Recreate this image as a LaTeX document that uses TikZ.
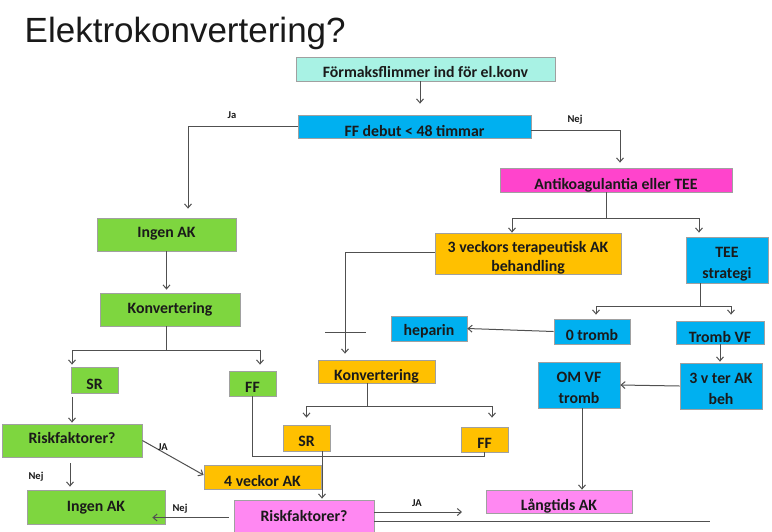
\documentclass[tikz,border=0pt]{standalone}
\usepackage{fontspec}
\setmainfont{Carlito}
\newfontfamily\titlefont{Liberation Sans}
\usetikzlibrary{arrows.meta}
\definecolor{cAqua}{HTML}{A8F2E4}
\definecolor{cCyan}{HTML}{00B0F0}
\definecolor{cGreen}{HTML}{7ED63F}
\definecolor{cOrange}{HTML}{FFC000}
\definecolor{cMagenta}{HTML}{FF44CC}
\definecolor{cPink}{HTML}{FF88F2}
\definecolor{cLine}{HTML}{505050}
\definecolor{cBorder}{HTML}{A0A0A0}
\definecolor{cText}{HTML}{1A1A1A}
\tikzset{
  box/.style={draw=cBorder, line width=0.8pt, inner sep=0pt},
  btext/.style={inner sep=0pt, align=center, text=cText,
    font=\bfseries\fontsize{15.8}{20.5}\selectfont},
  oneline/.style={text height=10.2pt, text depth=0pt},
  conn/.style={draw=cLine, line width=1pt},
  arr/.style={conn, -{Straight Barb[length=4pt,width=7pt]}},
  lbl/.style={font=\bfseries\fontsize{10.5}{12}\selectfont, text=cText, inner sep=0pt}
}
% \mybox{name}{fill}{x}{y}{w}{h}{text offset down}{extra text style}{text}
\newcommand\mybox[9]{%
  \node[box, fill=#2, minimum width=#5pt, minimum height=#6pt] (#1) at (#3,#4) {};
  \node[btext, #8] (#1t) at ([yshift=-#7pt]#1.center) {#9};}
\begin{document}
\begin{tikzpicture}[x=1pt,y=-1pt]
\useasboundingbox (0,0) rectangle (772,531);
\fill[white] (0,0) rectangle (772,531);
% title
\node[anchor=base west, inner sep=0pt, font=\titlefont\fontsize{35}{40}\selectfont, text=black!90] (title) at (24.5,42) {Elektrokonvertering?};
% boxes
\mybox{form}{cAqua}{425.5}{69}{259}{24}{3.5}{oneline}{Förmaksflimmer ind för el.konv}
\mybox{ffd}{cCyan}{414.5}{126.5}{233}{23}{5}{oneline}{FF debut < 48 timmar}
\mybox{anti}{cMagenta}{616}{180}{232}{24}{4}{oneline}{Antikoagulantia eller TEE}
\mybox{ingen1}{cGreen}{166.5}{234.5}{139}{33}{-2}{oneline}{Ingen AK}
\mybox{konv1}{cGreen}{170}{309.5}{140}{33}{-1}{oneline}{Konvertering}
\mybox{sr1}{cGreen}{94.5}{380}{47}{26}{4}{oneline}{SR}
\mybox{ff1}{cGreen}{252.5}{383.5}{47}{25}{4}{oneline}{FF}
\mybox{risk1}{cGreen}{72}{440.5}{140}{33}{-2.5}{oneline}{Riskfaktorer?}
\mybox{ingen2}{cGreen}{96}{507}{138}{34}{-0.7}{oneline}{Ingen AK}
\mybox{vecka4}{cOrange}{262.5}{477}{117}{24}{4}{oneline}{4 veckor AK}
\mybox{risk2}{cPink}{304}{517.5}{140}{35}{-1.2}{oneline}{Riskfaktorer?}
\mybox{tre}{cOrange}{528}{253.5}{186}{41}{4.4}{font=\bfseries\fontsize{15.8}{18.5}\selectfont}{3 veckors terapeutisk AK\\behandling}
\mybox{tee}{cCyan}{727}{260}{82}{46}{4.4}{}{TEE\\strategi}
\mybox{konv2}{cOrange}{376.5}{371.5}{117}{23}{4}{oneline}{Konvertering}
\mybox{sr2}{cOrange}{306.5}{438}{47}{26}{3}{oneline}{SR}
\mybox{ff2}{cOrange}{484.5}{439.5}{47}{25}{3.5}{oneline}{FF}
\mybox{heparin}{cCyan}{429}{328.5}{76}{25}{2}{oneline}{heparin}
\mybox{tromb0}{cCyan}{592}{331.5}{76}{25}{3.5}{oneline}{0 tromb}
\mybox{trombvf}{cCyan}{720}{332.5}{88}{23}{4.5}{oneline}{Tromb VF}
\mybox{trevter}{cCyan}{721}{386}{82}{46}{3}{}{3 v ter AK\\beh}
\mybox{omvf}{cCyan}{579}{385}{82}{46}{3}{}{OM VF\\tromb}
\mybox{lang}{cPink}{559}{501.5}{146}{23}{4}{oneline}{Långtids AK}
% free ends
\coordinate (jaend) at (462,512);
\coordinate (lineend) at (710,521);
% connectors
\draw[arr, shorten >=11pt] ([xshift=-5.5pt]form.south) -- ([xshift=5.5pt]ffd.north);
\draw[arr, shorten >=9pt] (ffd.west) -| ([xshift=21.5pt]ingen1.north);
\node[lbl] (ja1) at (232,115) {Ja};
\draw[arr, shorten >=5pt] ([yshift=-4pt]ffd.east) -| ([xshift=4pt]anti.north);
\node[lbl] (nej1) at (575,120) {Nej};
% anti branch
\draw[conn] ([xshift=-10pt]anti.south) -- ++(0,26) coordinate (b1);
\draw[arr] (b1) -| ([xshift=-16pt]tre.north);
\draw[arr, shorten >=4pt] (b1) -| ([xshift=-28pt]tee.north);
% left column
\draw[arr, shorten >=3pt] (ingen1.south) -- (ingen1.south |- konv1.north);
\draw[conn] ([xshift=-4pt]konv1.south) -- ++(0,24) coordinate (b2);
\draw[arr, shorten >=2pt] (b2) -| ([xshift=-22.5pt]sr1.north);
\draw[arr, shorten >=6pt] (b2) -| ([xshift=7.5pt]ff1.north);
\draw[arr, shorten <=4pt, shorten >=1pt] (sr1.south -| risk1.north) -- (risk1.north);
\draw[arr, shorten <=6pt, shorten >=3pt] ([xshift=-2pt]risk1.south) -- ([xshift=-2pt]risk1.south |- ingen2.north);
\node[lbl] (nej2) at (36,477) {Nej};
\draw[arr] (risk1.east) -- ([yshift=2pt]vecka4.west);
\node[lbl] (ja2) at (163,447) {JA};
\draw[conn] (ff1.south) -- ++(0,60) -| (ff2.south);
% middle column
\draw[arr, shorten >=6pt] ([yshift=1.5pt]tre.west) -| ([xshift=-31.5pt]konv2.north);
\draw[conn] ([xshift=-51.5pt]konv2.north |- 0,332) -- ([xshift=-10.5pt]konv2.north |- 0,332);
\draw[conn] ([xshift=-9.5pt]konv2.south) -- ++(0,23) coordinate (b3);
\draw[arr, shorten >=7pt] (b3) -| (sr2.north);
\draw[arr, shorten >=9pt] (b3) -| ([xshift=7.5pt]ff2.north);
\draw[arr, shorten >=1pt] ([xshift=15.5pt]sr2.south) -- ([xshift=15.5pt]sr2.south |- risk2.north);
% right column
\draw[conn] ([xshift=-27pt]tee.south) -- ++(0,23) coordinate (b4);
\draw[arr, shorten >=4pt] (b4) -| ([xshift=4pt]tromb0.north);
\draw[arr, shorten >=6pt] (b4) -| ([xshift=11pt]trombvf.north);
\draw[arr] (tromb0.west) -- (heparin.east);
\draw[arr, shorten >=1pt] (trombvf.south) -- (trombvf.south |- trevter.north);
\draw[arr] (trevter.west) -- (omvf.east);
\draw[arr] ([xshift=3pt]omvf.south) -- ([xshift=3pt]omvf.south |- lang.north);
% bottom
\draw[arr, shorten <=5pt] (risk2.west) -- ([xshift=-13pt]ingen2.east |- risk2.west);
\node[lbl] (nej3) at (180,509) {Nej};
\draw[arr] ([yshift=5.5pt]risk2.east) -- (jaend);
\node[lbl] (ja3) at (417,503) {JA};
\draw[conn] ([yshift=-3.5pt]risk2.east) -- (lineend);
\end{tikzpicture}
\end{document}
